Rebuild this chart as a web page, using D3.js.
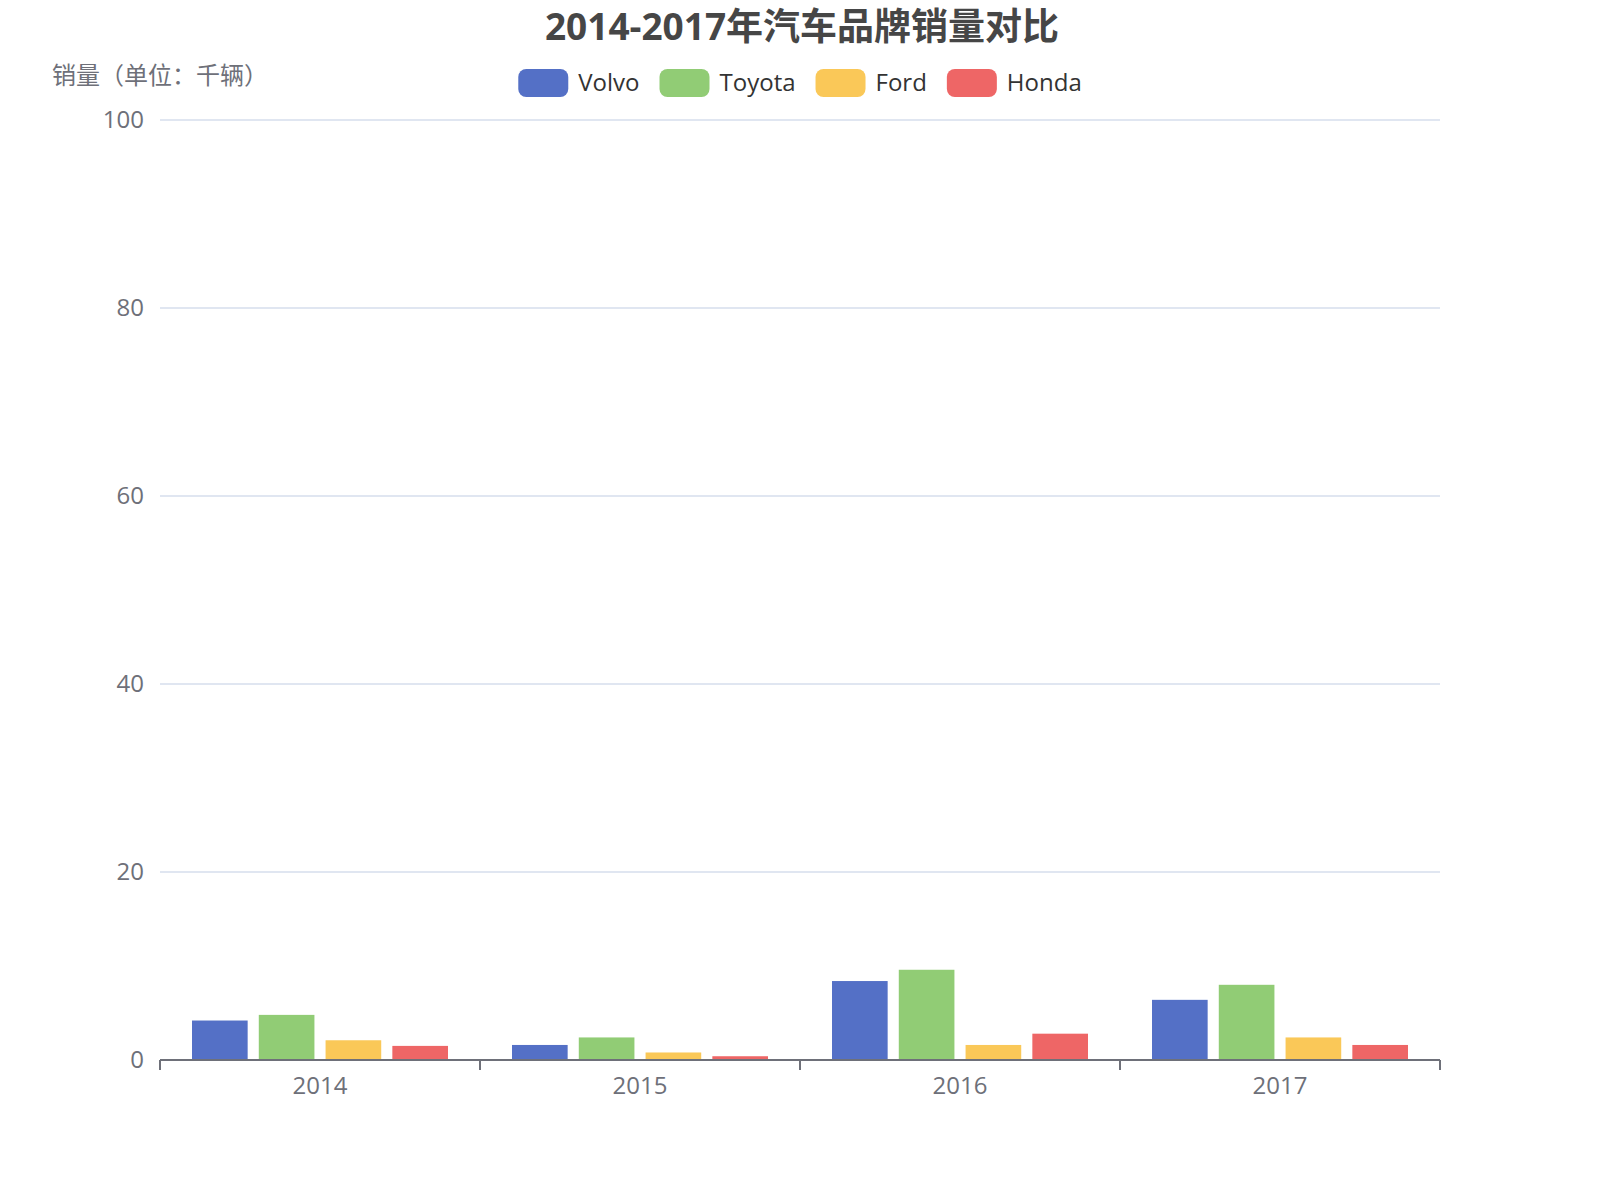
<!DOCTYPE html>
<html lang="zh">

<head>
    <meta charset="UTF-8">
    <title>2014-2017年汽车品牌销量对比</title>
    <script src="https://d3js.org/d3.v7.min.js"></script>
    <style>
        body { margin: 0; background: #fff; }
        text { font-family: "Open Sans", "Noto Sans CJK SC", sans-serif; }
    </style>
</head>

<body>
    <script>

        // data
        var years = ["2014", "2015", "2016", "2017"];
        var brands = ["Volvo", "Toyota", "Ford", "Honda"];
        var volvo = [4.2, 1.6, 8.4, 6.4];
        var toyota = [4.8, 2.4, 9.6, 8.0];
        var ford = [2.1, 0.8, 1.6, 2.4];
        var honda = [1.5, 0.4, 2.8, 1.6];
        var yTicks = [0, 20, 40, 60, 80, 100];
        var colors = ["#5470c6", "#91cc75", "#fac858", "#ee6666"];

        var series = [volvo, toyota, ford, honda];

        var width = 1600, height = 1200;
        var gLeft = 160, gRight = 1440, gTop = 120, gBottom = 1060;

        var svg = d3.select("body")
            .append("svg")
            .attr("width", width)
            .attr("height", height);

        var x0 = d3.scaleBand()
            .domain(years)
            .range([gLeft, gRight])
            .paddingInner(0.2)
            .paddingOuter(0.1);

        var x1 = d3.scaleBand()
            .domain(brands)
            .range([0, x0.bandwidth()])
            .paddingInner(1 / 6);

        var y = d3.scaleLinear()
            .domain([0, 100])
            .range([gBottom, gTop]);

        var color = d3.scaleOrdinal().domain(brands).range(colors);

        // grid lines
        svg.append("g")
            .selectAll("line")
            .data(yTicks.filter(function (d) { return d > 0; }))
            .join("line")
            .attr("x1", gLeft)
            .attr("x2", gRight)
            .attr("y1", function (d) { return y(d); })
            .attr("y2", function (d) { return y(d); })
            .attr("stroke", "#E0E6F1")
            .attr("stroke-width", 2);

        // y labels
        var yAxis = svg.append("g")
            .attr("transform", "translate(" + gLeft + ",0)")
            .call(d3.axisLeft(y).tickValues(yTicks).tickSize(0).tickPadding(16));
        yAxis.select(".domain").remove();
        yAxis.selectAll("text")
            .attr("fill", "#6E7079")
            .style("font-size", "24px");

        // bars
        svg.append("g")
            .selectAll("g")
            .data(series)
            .join("g")
            .attr("fill", function (d, i) { return colors[i]; })
            .each(function (vals, i) {
                d3.select(this).selectAll("rect")
                    .data(vals)
                    .join("rect")
                    .attr("x", function (v, j) { return x0(years[j]) + x1(brands[i]); })
                    .attr("width", x1.bandwidth())
                    .attr("y", function (v) { return y(v); })
                    .attr("height", function (v) { return y(0) - y(v); });
            });

        // x axis
        var xAxis = svg.append("g")
            .attr("transform", "translate(0," + gBottom + ")")
            .call(d3.axisBottom(x0).tickSize(0).tickPadding(17));
        xAxis.select(".domain").remove();
        xAxis.selectAll("text")
            .attr("fill", "#6E7079")
            .style("font-size", "24px");

        var step = x0.step();
        var boundaries = d3.range(years.length + 1).map(function (i) { return gLeft + i * step; });
        xAxis.selectAll(".bound")
            .data(boundaries)
            .join("line")
            .attr("class", "bound")
            .attr("x1", function (d) { return d; })
            .attr("x2", function (d) { return d; })
            .attr("y1", 0)
            .attr("y2", 10)
            .attr("stroke", "#6E7079")
            .attr("stroke-width", 2);
        xAxis.append("line")
            .attr("x1", gLeft)
            .attr("x2", gRight)
            .attr("stroke", "#6E7079")
            .attr("stroke-width", 2);

        // title
        svg.append("text")
            .attr("x", width / 2 + 2)
            .attr("y", 40)
            .attr("text-anchor", "middle")
            .attr("fill", "#464646")
            .style("font-size", "37px")
            .style("font-weight", "bold")
            .text("2014-2017年汽车品牌销量对比");

        // y axis name
        svg.append("text")
            .attr("x", 160)
            .attr("y", 84)
            .attr("text-anchor", "middle")
            .attr("fill", "#6E7079")
            .style("font-size", "24px")
            .text("销量（单位：千辆）");

        // legend
        var legend = svg.append("g");
        var items = legend.selectAll("g")
            .data(brands)
            .join("g");
        items.append("rect")
            .attr("width", 50)
            .attr("height", 28)
            .attr("rx", 8)
            .attr("fill", function (d) { return color(d); });
        items.append("text")
            .attr("x", 60)
            .attr("y", 14)
            .attr("dy", "0.35em")
            .attr("fill", "#333")
            .style("font-size", "24px")
            .text(function (d) { return d; });

        var pos = 0;
        items.each(function () {
            var w = 60 + d3.select(this).select("text").node().getComputedTextLength();
            d3.select(this).attr("transform", "translate(" + pos + ",69)");
            pos += w + 20;
        });
        pos -= 20;
        legend.attr("transform", "translate(" + (width / 2 - pos / 2) + ",0)");

    </script>
</body>

</html>
